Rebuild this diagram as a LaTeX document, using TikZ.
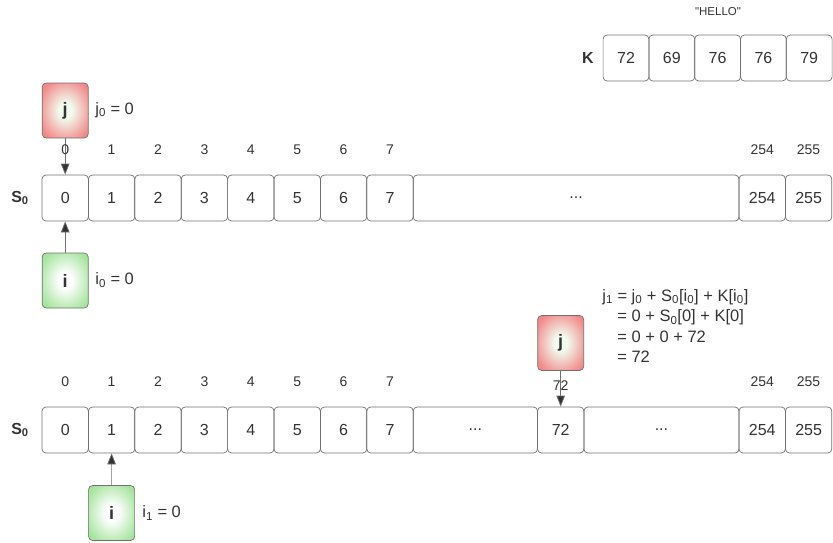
\documentclass[tikz,border=0pt]{standalone}
\usepackage{fontspec}
\setmainfont{Liberation Sans}[Ligatures=TeXOff]
\usetikzlibrary{arrows.meta,positioning}
\definecolor{rcink}{HTML}{333333}
\definecolor{rcline}{HTML}{707070}
\definecolor{rcred}{HTML}{F28A8A}
\definecolor{rcpale}{HTML}{F0FCEE}
\definecolor{rcgreen}{HTML}{A6E49E}
\pgfdeclareradialshading{jglow}{\pgfpoint{0bp}{0bp}}{color(0bp)=(rcpale);
  color(7bp)=(rcpale); color(30bp)=(rcred); color(50bp)=(rcred)}
\pgfdeclareradialshading{iglow}{\pgfpoint{0bp}{0bp}}{color(0bp)=(white);
  color(7bp)=(white); color(30bp)=(rcgreen); color(50bp)=(rcgreen)}

\begin{document}
\begin{tikzpicture}[x=1pt,y=-1pt,line cap=round,line join=round,
  text=rcink,line width=0.7pt,
  cell/.style={draw=rcline,rounded corners=4pt,minimum width=46.4pt,
    minimum height=46pt,inner sep=0pt,font=\fontsize{16}{19}\selectfont},
  idx/.style={inner sep=1pt,font=\fontsize{14}{16}\selectfont},
  rowname/.style={font=\bfseries\fontsize{16}{19}\selectfont},
  jbox/.style={draw=rcline,rounded corners=4pt,minimum width=46pt,
    minimum height=55pt,shading=jglow,
    font=\bfseries\fontsize{18}{21}\selectfont},
  ibox/.style={jbox,shading=iglow},
  note/.style={anchor=west,inner sep=0pt,font=\fontsize{16.5}{19}\selectfont},
  ptr/.style={-{Triangle[length=11pt,width=8.5pt,fill=rcink]},draw=rcline}]
\path[use as bounding box] (0,0) rectangle (833,542);

% K: the key "HELLO"
\node[idx,font=\fontsize{11.5}{13}\selectfont] (hello) at (718,12) {"HELLO"};
\node[rowname] (kname) at (588,58) {K};
\foreach \v [count=\n from 0] in {72,69,76,76,79}
  \node[cell,minimum width=45.8pt] (k\n) at ({626+45.8*\n},58) {\v};

% first state: i_0 = j_0 = 0
\node[rowname] (sa) at (20,198) {S\textsubscript{0}};
\foreach \n in {0,...,7}
  \node[cell] (a\n) at ({65.2+46.4*\n},198) {\n};
\node[cell,minimum width=325.8pt] (adots) at (576.1,198) {...};
\node[cell] (a254) at (762.2,198) {254};
\node[cell] (a255) at (808.6,198) {255};

\node[jbox] (ja) at (65.2,110.5) {j};
\node[ibox] (ia) at (65.2,280.5) {i};
\draw[ptr] (ja.south) -- (a0.north);
\draw[ptr] (ia.north) -- (a0.south);
\foreach \n in {0,...,7}
  \node[idx] (na\n) at ({65.2+46.4*\n},150) {\n};
\node[idx] (na254) at (762.2,150) {254};
\node[idx] (na255) at (808.6,150) {255};
\node[note] (jatext) at (95,110) {j\textsubscript{0} = 0};
\node[note] (iatext) at (95,280) {i\textsubscript{0} = 0};

% second state: i_1 = 1, j_1 = 72
\node[rowname] (sb) at (20,430) {S\textsubscript{0}};
\foreach \n in {0,...,7}
  \node[cell] (b\n) at ({65.2+46.4*\n},430) {\n};
\node[cell,minimum width=124.3pt] (bdots) at (475.35,430) {...};
\node[cell] (b72) at (560.7,430) {72};
\node[cell,minimum width=155.1pt] (bdotsb) at (661.45,430) {...};
\node[cell] (b254) at (762.2,430) {254};
\node[cell] (b255) at (808.6,430) {255};

\node[jbox] (jb) at (560.7,343) {j};
\node[ibox] (ib) at (111.6,513) {i};
\draw[ptr] (jb.south) -- (b72.north);
\draw[ptr] (ib.north) -- (b1.south);
\foreach \n in {0,...,7}
  \node[idx] (nb\n) at ({65.2+46.4*\n},382) {\n};
\node[idx] (nb72) at (560.7,386) {72};
\node[idx] (nb254) at (762.2,382) {254};
\node[idx] (nb255) at (808.6,382) {255};
\node[note] (ibtext) at (142,513) {i\textsubscript{1} = 0};
\node[note,anchor=north west,align=left,font=\fontsize{16.5}{20.5}\selectfont]
  (jbtext) at (602,289) {j\textsubscript{1} = j\textsubscript{0} + S\textsubscript{0}[i\textsubscript{0}] + K[i\textsubscript{0}]\\
  \hspace{15pt}= 0 + S\textsubscript{0}[0] + K[0]\\
  \hspace{15pt}= 0 + 0 + 72\\
  \hspace{15pt}= 72};
\end{tikzpicture}
\end{document}
